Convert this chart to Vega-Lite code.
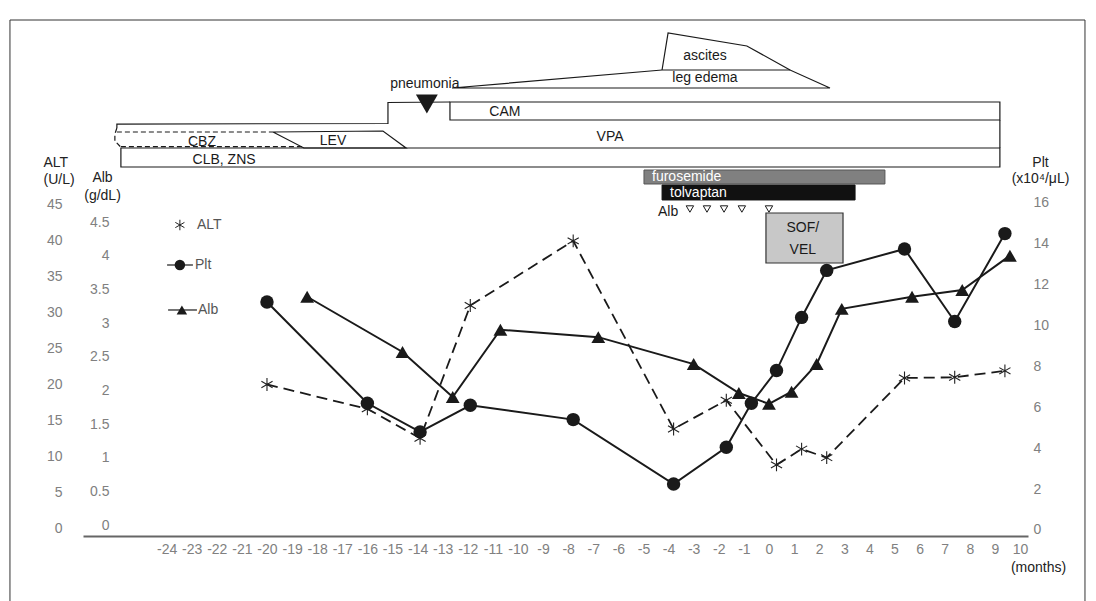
{
  "$schema": "https://vega.github.io/schema/vega-lite/v6.json",
  "width": 945,
  "height": 516,
  "autosize": "none",
  "padding": {"left": 83, "top": 20, "right": 68, "bottom": 65},
  "config": {
    "view": {"stroke": null},
    "font": "Liberation Sans",
    "text": {"font": "Liberation Sans"},
    "axis": {"labelFont": "Liberation Sans", "titleFont": "Liberation Sans"}
  },
  "datasets": {
    "alt": [
      {"m": -20, "v": 20}, {"m": -16, "v": 16.6}, {"m": -13.9, "v": 12.5}, {"m": -11.9, "v": 31},
      {"m": -7.8, "v": 40}, {"m": -3.8, "v": 13.8}, {"m": -1.7, "v": 17.8}, {"m": 0.3, "v": 8.8},
      {"m": 1.3, "v": 11}, {"m": 2.3, "v": 9.8}, {"m": 5.4, "v": 20.9}, {"m": 7.4, "v": 21}, {"m": 9.4, "v": 21.9}
    ],
    "plt": [
      {"m": -20, "v": 11.15}, {"m": -16, "v": 6.2}, {"m": -13.9, "v": 4.8}, {"m": -11.9, "v": 6.1},
      {"m": -7.8, "v": 5.4}, {"m": -3.8, "v": 2.25}, {"m": -1.7, "v": 4.05}, {"m": -0.7, "v": 6.2},
      {"m": 0.3, "v": 7.8}, {"m": 1.3, "v": 10.4}, {"m": 2.3, "v": 12.7}, {"m": 5.4, "v": 13.75},
      {"m": 7.4, "v": 10.2}, {"m": 9.4, "v": 14.5}
    ],
    "alb": [
      {"m": -18.4, "v": 3.39}, {"m": -14.6, "v": 2.57}, {"m": -12.6, "v": 1.9}, {"m": -10.7, "v": 2.9},
      {"m": -6.8, "v": 2.79}, {"m": -3, "v": 2.39}, {"m": -1.2, "v": 1.96}, {"m": 0, "v": 1.8},
      {"m": 0.9, "v": 1.98}, {"m": 1.9, "v": 2.39}, {"m": 2.9, "v": 3.21}, {"m": 5.7, "v": 3.39},
      {"m": 7.7, "v": 3.49}, {"m": 9.6, "v": 4.0}
    ],
    "outline": [
      {"id": "legEdema", "i": 0, "m": -12.63, "lv": 86.82},
      {"id": "legEdema", "i": 1, "m": -4.26, "lv": 90.31},
      {"id": "legEdema", "i": 2, "m": 0.84, "lv": 90.31},
      {"id": "legEdema", "i": 3, "m": 2.43, "lv": 86.82},
      {"id": "legEdema", "i": 4, "m": -12.63, "lv": 86.82},
      {"id": "ascites", "i": 0, "m": -4.26, "lv": 90.31},
      {"id": "ascites", "i": 1, "m": -4.02, "lv": 97.48},
      {"id": "ascites", "i": 2, "m": -0.88, "lv": 94.96},
      {"id": "ascites", "i": 3, "m": 0.84, "lv": 90.31},
      {"id": "vpaTop", "i": 0, "m": -25.98, "lv": 79.07},
      {"id": "vpaTop", "i": 1, "m": -25.98, "lv": 79.84},
      {"id": "vpaTop", "i": 2, "m": -15.18, "lv": 79.94},
      {"id": "vpaTop", "i": 3, "m": -15.18, "lv": 84.01},
      {"id": "vpaTop", "i": 4, "m": -12.71, "lv": 84.11},
      {"id": "vpaRight", "i": 0, "m": 9.2, "lv": 80.62},
      {"id": "vpaRight", "i": 1, "m": 9.2, "lv": 75.19},
      {"id": "lev", "i": 0, "m": -19.76, "lv": 78.29},
      {"id": "lev", "i": 1, "m": -15.38, "lv": 78.49},
      {"id": "lev", "i": 2, "m": -14.46, "lv": 75.19},
      {"id": "lev", "i": 3, "m": -18.53, "lv": 75.19},
      {"id": "lev", "i": 4, "m": -19.76, "lv": 78.29},
      {"id": "legPlt", "i": 0, "m": -23.98, "lv": 52.52},
      {"id": "legPlt", "i": 1, "m": -22.95, "lv": 52.52},
      {"id": "legAlb", "i": 0, "m": -23.94, "lv": 43.8},
      {"id": "legAlb", "i": 1, "m": -22.79, "lv": 43.8}
    ],
    "dashed": [
      {"id": "cbzTop", "i": 0, "m": -25.98, "lv": 78.29},
      {"id": "cbzTop", "i": 1, "m": -19.76, "lv": 78.29},
      {"id": "cbzLeft", "i": 0, "m": -25.98, "lv": 79.07},
      {"id": "cbzLeft", "i": 1, "m": -26.06, "lv": 77.91},
      {"id": "cbzLeft", "i": 2, "m": -26.06, "lv": 76.55},
      {"id": "cbzLeft", "i": 3, "m": -25.82, "lv": 75.35},
      {"id": "cbzBottom", "i": 0, "m": -25.82, "lv": 75.45},
      {"id": "cbzBottom", "i": 1, "m": -18.53, "lv": 75.45}
    ],
    "boxes": [
      {"name": "CAM", "m": -12.71, "m2": 9.2, "lv": 84.11, "lv2": 80.62},
      {"name": "CLB, ZNS", "m": -25.82, "m2": 9.2, "lv": 75.19, "lv2": 71.51},
      {"name": "furosemide", "m": -4.98, "m2": 4.62, "lv": 70.93, "lv2": 68.22},
      {"name": "tolvaptan", "m": -4.26, "m2": 3.43, "lv": 68.02, "lv2": 65.12},
      {"name": "SOF/VEL", "m": -0.12, "m2": 2.95, "lv": 62.6, "lv2": 52.91}
    ],
    "labels": [
      {"t": "pneumonia", "m": -13.71, "lv": 87.6},
      {"t": "ascites", "m": -2.55, "lv": 93.02},
      {"t": "leg edema", "m": -2.55, "lv": 88.76},
      {"t": "CAM", "m": -10.52, "lv": 82.17},
      {"t": "VPA", "m": -6.33, "lv": 77.33},
      {"t": "CBZ", "m": -22.59, "lv": 76.36},
      {"t": "LEV", "m": -17.37, "lv": 76.55},
      {"t": "CLB, ZNS", "m": -21.71, "lv": 72.87},
      {"t": "Alb", "m": -4.02, "lv": 62.79},
      {"t": "SOF/", "m": 1.35, "lv": 59.69},
      {"t": "VEL", "m": 1.35, "lv": 55.43}
    ],
    "whiteLabels": [
      {"t": "furosemide", "m": -4.66, "lv": 69.57},
      {"t": "tolvaptan", "m": -3.94, "lv": 66.47}
    ],
    "legendLabels": [
      {"t": "ALT", "m": -22.79, "lv": 60.27},
      {"t": "Plt", "m": -22.87, "lv": 52.52},
      {"t": "Alb", "m": -22.75, "lv": 43.8}
    ],
    "albDoses": [
      {"m": -3.15, "lv": 63.37}, {"m": -2.47, "lv": 63.37}, {"m": -1.79, "lv": 63.37},
      {"m": -1.08, "lv": 63.37}, {"m": 0, "lv": 63.37}
    ],
    "events": [{"e": "pneumonia", "m": -13.63, "lv": 83.72}],
    "legAlt": [{"m": -23.47, "lv": 60.27}],
    "legPltSym": [{"m": -23.47, "lv": 52.52}],
    "legAlbSym": [{"m": -23.39, "lv": 43.8}],
    "frame": [{"m": -30.24, "m2": 12.59, "lv": 100, "lv2": -14.34}]
  },
  "encoding": {
    "x": {"field": "m", "type": "quantitative",
      "scale": {"domain": [-27.33, 10.32], "nice": false, "zero": false},
      "axis": {
        "values": [-24,-23,-22,-21,-20,-19,-18,-17,-16,-15,-14,-13,-12,-11,-10,-9,-8,-7,-6,-5,-4,-3,-2,-1,0,1,2,3,4,5,6,7,8,9,10],
        "labelExpr": "'' + datum.value",
        "domain": true, "domainColor": "#666666", "domainWidth": 2,
        "ticks": false, "grid": false,
        "labelColor": "#808080", "labelFontSize": 14, "labelPadding": 6,
        "labelBaseline": "top", "labelOverlap": false, "labelFlush": false,
        "title": "(months)", "titleX": 955, "titleY": 31, "titleAlign": "center",
        "titleBaseline": "middle", "titleFontWeight": "normal", "titleFontSize": 14, "titleColor": "#222222"
      }}
  },
  "layer": [
    {
      "data": {"name": "alt"},
      "encoding": {
        "y": {"field": "v", "type": "quantitative",
          "scale": {"domain": [-1.11, 70.77], "nice": false, "zero": false},
          "axis": {
            "orient": "left", "values": [0,5,10,15,20,25,30,35,40,45], "format": "d",
            "domain": false, "ticks": false, "grid": false,
            "labelAlign": "right", "labelBaseline": "middle", "labelPadding": 21,
            "labelColor": "#808080", "labelFontSize": 14,
            "title": ["ALT", "(U/L)"], "titleAngle": 0, "titleAlign": "left", "titleBaseline": "top",
            "titleX": -40, "titleY": 135, "titleLineHeight": 17,
            "titleFontWeight": "normal", "titleFontSize": 14, "titleColor": "#222222"
          }}
      },
      "layer": [
        {"mark": {"type": "line", "color": "#1a1a1a", "strokeWidth": 1.8, "strokeDash": [11, 6]}},
        {"mark": {"type": "point", "shape": "M0,-1L0,1M-0.87,-0.5L0.87,0.5M-0.87,0.5L0.87,-0.5", "filled": false, "stroke": "#222222", "strokeWidth": 1.1, "size": 165, "opacity": 1}}
      ]
    },
    {
      "data": {"name": "alb"},
      "encoding": {
        "y": {"field": "v", "type": "quantitative",
          "scale": {"domain": [-0.163, 7.5], "nice": false, "zero": false},
          "axis": {
            "orient": "left", "offset": -26, "values": [0,0.5,1,1.5,2,2.5,3,3.5,4,4.5], "format": ".1~f",
            "domain": false, "ticks": false, "grid": false,
            "labelAlign": "right", "labelBaseline": "middle", "labelPadding": 0,
            "labelColor": "#808080", "labelFontSize": 14,
            "title": ["Alb", "(g/dL)"], "titleAngle": 0, "titleAlign": "center", "titleBaseline": "top",
            "titleX": -7, "titleY": 150, "titleLineHeight": 18,
            "titleFontWeight": "normal", "titleFontSize": 14, "titleColor": "#222222"
          }}
      },
      "layer": [
        {"mark": {"type": "line", "color": "#1a1a1a", "strokeWidth": 2}},
        {"mark": {"type": "point", "shape": "triangle-up", "filled": true, "color": "#1a1a1a", "size": 190, "opacity": 1}}
      ]
    },
    {
      "data": {"name": "plt"},
      "encoding": {
        "y": {"field": "v", "type": "quantitative",
          "scale": {"domain": [-0.294, 24.95], "nice": false, "zero": false},
          "axis": {
            "orient": "right", "values": [0,2,4,6,8,10,12,14,16], "format": "d",
            "domain": false, "ticks": false, "grid": false,
            "labelAlign": "left", "labelBaseline": "middle", "labelPadding": 5,
            "labelColor": "#808080", "labelFontSize": 14,
            "title": ["Plt", "(x10⁴/μL)"], "titleAngle": 0, "titleAlign": "center", "titleBaseline": "top",
            "titleX": 12, "titleY": 135, "titleLineHeight": 16,
            "titleFontWeight": "normal", "titleFontSize": 14, "titleColor": "#222222"
          }}
      },
      "layer": [
        {"mark": {"type": "line", "color": "#1a1a1a", "strokeWidth": 2}},
        {"mark": {"type": "point", "shape": "circle", "filled": true, "color": "#1a1a1a", "size": 180, "opacity": 1}}
      ]
    },
    {
      "encoding": {
        "y": {"field": "lv", "type": "quantitative", "scale": {"domain": [0, 100], "nice": false, "zero": false}, "axis": null}
      },
      "layer": [
        {
          "data": {"name": "frame"},
          "mark": {"type": "rect", "fill": null, "stroke": "#333333", "strokeWidth": 1},
          "encoding": {"x2": {"field": "m2"}, "y2": {"field": "lv2"}}
        },
        {
          "data": {"name": "boxes"},
          "transform": [{"filter": "datum.name === 'CAM' || datum.name === 'CLB, ZNS'"}],
          "mark": {"type": "rect", "fill": "#ffffff", "stroke": "#1a1a1a", "strokeWidth": 1.2},
          "encoding": {"x2": {"field": "m2"}, "y2": {"field": "lv2"}}
        },
        {
          "data": {"name": "outline"},
          "mark": {"type": "line", "color": "#1a1a1a", "strokeWidth": 1.2},
          "encoding": {"detail": {"field": "id"}, "order": {"field": "i"}}
        },
        {
          "data": {"name": "dashed"},
          "mark": {"type": "line", "color": "#1a1a1a", "strokeWidth": 1.2, "strokeDash": [5, 3]},
          "encoding": {"detail": {"field": "id"}, "order": {"field": "i"}}
        },
        {
          "data": {"name": "boxes"},
          "transform": [{"filter": "datum.name === 'furosemide'"}],
          "mark": {"type": "rect", "fill": "#808080", "stroke": "#555555", "strokeWidth": 1},
          "encoding": {"x2": {"field": "m2"}, "y2": {"field": "lv2"}}
        },
        {
          "data": {"name": "boxes"},
          "transform": [{"filter": "datum.name === 'tolvaptan'"}],
          "mark": {"type": "rect", "fill": "#111111", "stroke": "#111111", "strokeWidth": 1},
          "encoding": {"x2": {"field": "m2"}, "y2": {"field": "lv2"}}
        },
        {
          "data": {"name": "boxes"},
          "transform": [{"filter": "datum.name === 'SOF/VEL'"}],
          "mark": {"type": "rect", "fill": "#c8c8c8", "stroke": "#333333", "strokeWidth": 1.2},
          "encoding": {"x2": {"field": "m2"}, "y2": {"field": "lv2"}}
        },
        {
          "data": {"name": "labels"},
          "mark": {"type": "text", "fontSize": 14, "color": "#1a1a1a", "align": "center", "baseline": "middle"},
          "encoding": {"text": {"field": "t"}}
        },
        {
          "data": {"name": "whiteLabels"},
          "mark": {"type": "text", "fontSize": 14, "color": "#ffffff", "align": "left", "baseline": "middle"},
          "encoding": {"text": {"field": "t"}}
        },
        {
          "data": {"name": "legendLabels"},
          "mark": {"type": "text", "fontSize": 14, "color": "#555555", "align": "left", "baseline": "middle"},
          "encoding": {"text": {"field": "t"}}
        },
        {
          "data": {"name": "albDoses"},
          "mark": {"type": "point", "shape": "triangle-down", "filled": false, "stroke": "#1a1a1a", "strokeWidth": 1, "size": 55, "opacity": 1}
        },
        {
          "data": {"name": "events"},
          "mark": {"type": "point", "shape": "triangle-down", "filled": true, "color": "#1a1a1a", "size": 480, "opacity": 1}
        },
        {
          "data": {"name": "legAlt"},
          "mark": {"type": "point", "shape": "M0,-1L0,1M-0.87,-0.5L0.87,0.5M-0.87,0.5L0.87,-0.5", "filled": false, "stroke": "#222222", "strokeWidth": 1, "size": 110, "opacity": 1}
        },
        {
          "data": {"name": "legPltSym"},
          "mark": {"type": "point", "shape": "circle", "filled": true, "color": "#1a1a1a", "size": 110, "opacity": 1}
        },
        {
          "data": {"name": "legAlbSym"},
          "mark": {"type": "point", "shape": "triangle-up", "filled": true, "color": "#1a1a1a", "size": 110, "opacity": 1}
        }
      ]
    }
  ],
  "resolve": {"scale": {"y": "independent"}, "axis": {"y": "independent"}}
}
